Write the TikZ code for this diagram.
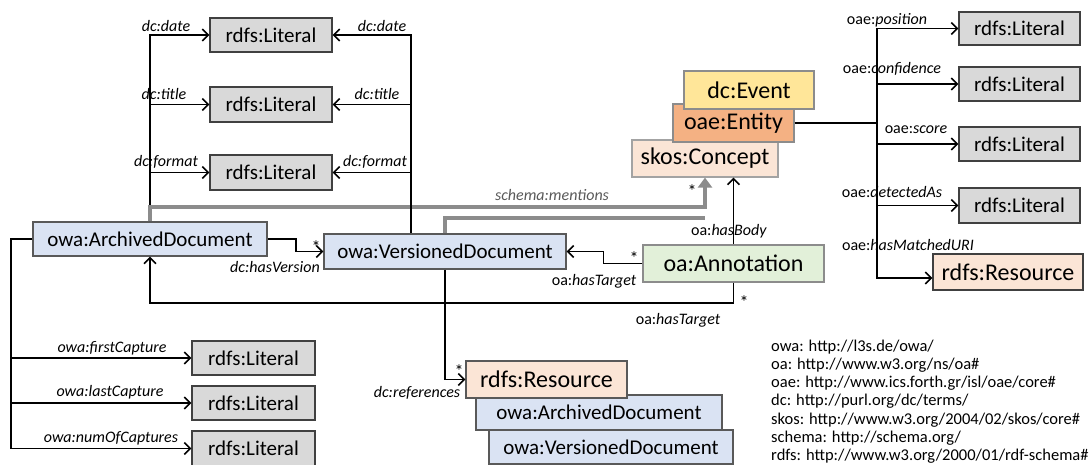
\documentclass[tikz,border=0pt]{standalone}
\usepackage{fontspec}
\setmainfont{Carlito}
\usetikzlibrary{arrows.meta,calc}
\definecolor{litgray}{HTML}{D9D9D9}
\definecolor{docblue}{HTML}{DAE3F3}
\definecolor{anngreen}{HTML}{E2F0D9}
\definecolor{peach}{HTML}{FBE5D6}
\definecolor{entorange}{HTML}{F4B183}
\definecolor{evyellow}{HTML}{FFE699}
\definecolor{bdark}{HTML}{404040}
\definecolor{bmid}{HTML}{595959}
\definecolor{blight}{HTML}{8C8C8C}
\definecolor{mgray}{HTML}{8C8C8C}
\definecolor{tgray}{HTML}{595959}
\begin{document}
\begin{tikzpicture}[x=1pt,y=-1pt,
  box/.style={line width=1.2pt, inner sep=0pt, font=\fontsize{21}{25}\selectfont},
  bigbox/.style={box, font=\fontsize{24}{28}\selectfont},
  sz/.style 2 args={minimum width=#1pt, minimum height=#2pt},
  lit/.style={box, fill=litgray, draw=bdark},
  doc/.style={box, fill=docblue, draw=bmid},
  lab/.style={anchor=base, inner sep=0pt, font=\fontsize{16}{19}\selectfont},
  leg/.style={anchor=base west, inner sep=0pt, font=\fontsize{16.5}{19}\selectfont},
  star/.style={anchor=base, inner sep=0pt, font=\fontsize{18}{20}\selectfont},
  conn/.style={line width=1.8pt},
  arr/.style={conn, -{Straight Barb[length=6pt,width=12pt,line width=1.6pt]}},
  gline/.style={line width=4.5pt, draw=mgray},
  garr/.style={gline, -{Triangle[length=10pt,width=14pt]}}
]
\useasboundingbox (0,0) rectangle (1092,465);

% literal boxes (dc)
\node[lit, sz={122}{34}] (L1) at (271,35) {rdfs:Literal};
\node[lit, sz={122}{35}] (L2) at (271,104.5) {rdfs:Literal};
\node[lit, sz={122}{35}] (L3) at (271,172.5) {rdfs:Literal};

% documents
\node[doc, sz={234}{34}] (AD) at (150,239) {owa:ArchivedDocument};
\node[doc, sz={242}{35}] (VD) at (445,251.5) {owa:VersionedDocument};

% annotation
\node[bigbox, fill=anngreen, draw=blight, sz={181}{37}] (AN) at (733.5,263.5) {oa:Annotation};

% concept stack
\node[bigbox, fill=peach, draw=blight!80, sz={146}{37}] (SC) at (705,158.5) {skos:Concept};
\node[bigbox, fill=entorange, draw=blight, sz={121}{38}] (EN) at (733.5,123) {oae:Entity};
\node[bigbox, fill=evyellow, draw=blight, sz={130}{38}] (EV) at (749,90) {dc:Event};

% right literals
\node[lit, sz={121}{33}] (R1) at (1019.5,28.5) {rdfs:Literal};
\node[lit, sz={121}{34}] (R2) at (1019.5,84) {rdfs:Literal};
\node[lit, sz={121}{34}] (R3) at (1019.5,144) {rdfs:Literal};
\node[lit, sz={121}{35}] (R4) at (1019.5,205.5) {rdfs:Literal};
\node[bigbox, fill=peach, draw=bdark, sz={150}{36}] (RR) at (1008,272) {rdfs:Resource};

% bottom-left literals
\node[lit, sz={123}{34}] (B1) at (253.5,358) {rdfs:Literal};
\node[lit, sz={123}{34}] (B2) at (253.5,403) {rdfs:Literal};
\node[lit, sz={123}{35}] (B3) at (253.5,448.5) {rdfs:Literal};

% bottom stack
\node[doc, sz={244}{34}] (BV) at (611,447) {owa:VersionedDocument};
\node[doc, sz={246}{35}] (BA) at (599,412.5) {owa:ArchivedDocument};
\node[bigbox, fill=peach, draw=bmid, sz={161}{37}] (BR) at (546.5,379.5) {rdfs:Resource};

% coordinates
\coordinate (dct) at (411,36);
\coordinate (lct) at (11,239);
\coordinate (rt) at (877,123);
\coordinate (ht) at (150,303);
\coordinate (RRin) at ($(RR.west)+(0,6)$);

% left dc trunk
\draw[arr] (AD.north) -- (AD.north |- L1.west) -- (L1.west);
\draw[arr] (AD.north |- L2.west) -- (L2.west);
\draw[arr] (AD.north |- L3.west) -- (L3.west);

% schema:mentions (gray)
\draw[garr] (AD.north) |- (705,207) -- (SC.south);
\draw[gline] (VD.north) |- (705,218);

% right dc trunk
\draw[arr] (dct |- VD.north) |- (L1.east);
\draw[arr] (dct |- L2.east) -- (L2.east);
\draw[arr] (dct |- L3.east) -- (L3.east);

% hasVersion
\draw[arr] (AD.east) -- ++(28,0) |- (VD.west);

% captures
\draw[arr] (AD.west) -- (lct) |- (B3.west);
\draw[arr] (lct |- B1.west) -- (B1.west);
\draw[arr] (lct |- B2.west) -- (B2.west);

% annotation links
\draw[arr] (AN.west) -- ++(-39,0) |- (VD.east);
\draw[arr] (AN.south) |- (ht) -- (AD.south);
\draw[arr] (AN.north) -- (AN.north |- SC.south);

% references
\draw[arr] (VD.south) |- (BR.west);

% entity properties
\draw[arr] (EN.east) -- (rt) |- (R1.west);
\draw[arr] (rt) |- (RRin);
\draw[arr] (rt |- R2.west) -- (R2.west);
\draw[arr] (rt |- R3.west) -- (R3.west);
\draw[arr] (rt |- R4.west) -- (R4.west);

% labels
\node[lab] (ldate1) at (166,32) {\textit{dc:date}};
\node[lab] (ltitle1) at (164,100) {\textit{dc:title}};
\node[lab] (lformat1) at (166,167) {\textit{dc:format}};
\node[lab] (ldate2) at (382,32) {\textit{dc:date}};
\node[lab] (ltitle2) at (377,100) {\textit{dc:title}};
\node[lab] (lformat2) at (375,167) {\textit{dc:format}};
\node[lab] (lhasv) at (275,272) {\textit{dc:hasVersion}};
\node[star] (s1) at (316,253) {*};
\node[lab] (lfirst) at (112,352) {\textit{owa:firstCapture}};
\node[lab] (llast) at (110,396) {\textit{owa:lastCapture}};
\node[lab] (lnum) at (111,442) {\textit{owa:numOfCaptures}};
\node[lab, text=tgray] (lment) at (552,201) {\textit{schema:mentions}};
\node[star] (s2) at (692,198) {*};
\node[lab] (lbody) at (729,236) {oa:\textit{hasBody}};
\node[lab] (ltgt1) at (594,285) {oa:\textit{hasTarget}};
\node[star] (s3) at (634,264) {*};
\node[star] (s4) at (744,308) {*};
\node[lab] (ltgt2) at (678,324) {oa:\textit{hasTarget}};
\node[star] (s5) at (459,377) {*};
\node[lab] (lref) at (417,397) {\textit{dc:references}};
\node[lab] (lpos) at (887,25) {oae:\textit{position}};
\node[lab] (lconf) at (892,74) {oae:\textit{confidence}};
\node[lab] (lscore) at (916,134) {oae:\textit{score}};
\node[lab] (ldet) at (892,197) {oae:\textit{detectedAs}};
\node[lab] (lmatch) at (908,251) {oae:\textit{hasMatchedURI}};

% legend
\node[leg] (g1) at (771,351) {owa: http://l3s.de/owa/};
\node[leg] (g2) at (771,369.3) {oa: http://www.w3.org/ns/oa\#};
\node[leg] (g3) at (771,387.6) {oae: http://www.ics.forth.gr/isl/oae/core\#};
\node[leg] (g4) at (771,405.9) {dc: http://purl.org/dc/terms/};
\node[leg] (g5) at (771,424.2) {skos: http://www.w3.org/2004/02/skos/core\#};
\node[leg] (g6) at (771,442.5) {schema: http://schema.org/};
\node[leg] (g7) at (771,460.8) {rdfs: http://www.w3.org/2000/01/rdf-schema\#};
\end{tikzpicture}
\end{document}
